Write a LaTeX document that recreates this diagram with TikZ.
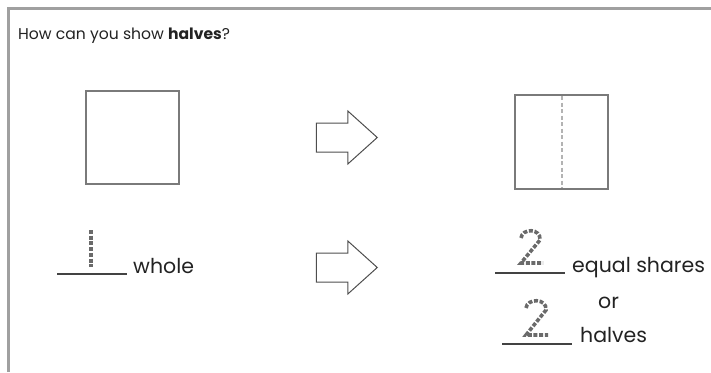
\documentclass[tikz,border=0pt]{standalone}
\usepackage{fontspec}
\setmainfont{Poppins}
\usetikzlibrary{positioning,shapes.arrows}
\definecolor{ink}{HTML}{222222}
\definecolor{boxgray}{HTML}{7A7A7A}
\definecolor{framegray}{HTML}{A0A0A0}
\definecolor{tracegray}{HTML}{6A6A6A}
\tikzset{shape box/.style={draw=boxgray,line width=1.8pt},
	 fold/.style={draw=framegray!80,line width=1.2pt,dash pattern=on 4pt off 2.5pt},
	 hollow arrow/.style={single arrow,draw=ink!80,line width=1pt,inner sep=14pt,
	   single arrow head extend=12pt,single arrow tip angle=84,minimum height=61pt},
	 blank/.style={draw=ink!85,line width=1.1pt},
	 trace/.style={draw=tracegray,line width=3.6pt,dash pattern=on 4pt off 1.7pt},
	 txt/.style={inner sep=0pt,anchor=base west,text=ink,font=\fontsize{20.5}{24}\selectfont}
	 }

\begin{document}
\begin{tikzpicture}[x=1pt,y=-1pt] % halves worksheet
	\useasboundingbox (0,0) rectangle (711,372);
	\draw[framegray,line width=2.2pt] (8.5,372) -- (8.5,8.5) -- (711,8.5);
	\node[txt,font=\fontsize{15.6}{19}\selectfont] (title) at (18,39) {How can you show \textbf{halves}?};
	% the shapes
	\draw[shape box] (86,91) rectangle (179,184);
	\node[hollow arrow,anchor=tip] (arr1) at (378,137.5) {};
	\draw[shape box] (515,95) rectangle (608,189);
	\draw[fold] (562,96) -- (562,188);
	% the words
	\coordinate (b1) at (57,274); \coordinate (b1e) at (127,274);
	\draw[blank] (b1) -- (b1e);
	\draw[trace] (91,230) -- (91,267);
	\node[txt] (whole) at (133,273) {whole};
	\node[hollow arrow,anchor=tip] (arr2) at (378,267.5) {};
	\coordinate (b2) at (495,273); \coordinate (b2e) at (565,273);
	\draw[blank] (b2) -- (b2e);
	\draw[trace] (521,238) .. controls (522,228) and (541,228) .. (540,240) -- (521,263) -- (543,263);
	\node[txt] (shares) at (572,272) {equal shares};
	\node[txt] (or) at (598,308) {or};
	\coordinate (b3) at (502,344); \coordinate (b3e) at (572,344);
	\draw[blank] (b3) -- (b3e);
	\draw[trace] (526,308) .. controls (527,298) and (547,298) .. (546,310) -- (526,335) -- (548,335);
	\node[txt] (halves) at (580,342) {halves};
\end{tikzpicture}
\end{document}
